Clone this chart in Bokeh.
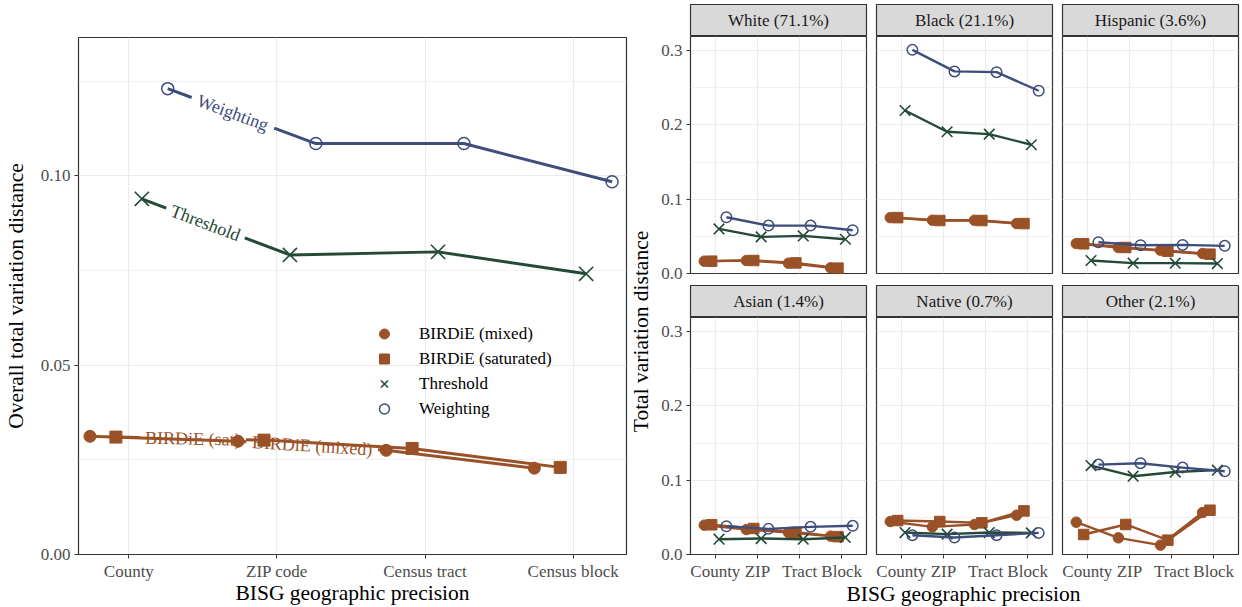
import math
from bokeh.plotting import figure
from bokeh.models import Range1d, FixedTicker, Legend, LegendItem, NumeralTickFormatter
from bokeh.layouts import row, column
from bokeh.embed import file_html
from bokeh.resources import INLINE
from bokeh.core.properties import value

# ---------------- data ----------------
categories = ["County", "ZIP code", "Census tract", "Census block"]
short_categories = ["County", "ZIP", "Tract", "Block"]
series_names = ["BIRDiE (mixed)", "BIRDiE (saturated)", "Threshold", "Weighting"]

overall_mixed = [0.0312, 0.0299, 0.0275, 0.0228]
overall_saturated = [0.0310, 0.0302, 0.0280, 0.0230]
overall_threshold = [0.0939, 0.0791, 0.0799, 0.0741]
overall_weighting = [0.1230, 0.1085, 0.1085, 0.0984]

facet_titles = ["White (71.1%)", "Black (21.1%)", "Hispanic (3.6%)",
                "Asian (1.4%)", "Native (0.7%)", "Other (2.1%)"]

facet_mixed = [
    [0.0166, 0.0175, 0.0139, 0.0076],
    [0.0752, 0.0717, 0.0717, 0.0672],
    [0.0403, 0.0349, 0.0313, 0.0269],
    [0.0395, 0.0336, 0.0296, 0.0247],
    [0.0444, 0.0372, 0.0404, 0.0529],
    [0.0435, 0.0224, 0.0126, 0.0565],
]
facet_saturated = [
    [0.0166, 0.0175, 0.0143, 0.0072],
    [0.0752, 0.0713, 0.0713, 0.0672],
    [0.0400, 0.0350, 0.0300, 0.0260],
    [0.0400, 0.0350, 0.0300, 0.0240],
    [0.0457, 0.0444, 0.0426, 0.0587],
    [0.0269, 0.0404, 0.0193, 0.0596],
]
facet_threshold = [
    [0.0600, 0.0493, 0.0506, 0.0461],
    [0.2194, 0.1908, 0.1876, 0.1733],
    [0.0175, 0.0139, 0.0139, 0.0134],
    [0.0206, 0.0215, 0.0206, 0.0229],
    [0.0296, 0.0274, 0.0296, 0.0291],
    [0.1197, 0.1054, 0.1110, 0.1135],
]
facet_weighting = [
    [0.0757, 0.0645, 0.0645, 0.0582],
    [0.3010, 0.2720, 0.2710, 0.2460],
    [0.0421, 0.0381, 0.0385, 0.0372],
    [0.0381, 0.0345, 0.0372, 0.0386],
    [0.0260, 0.0229, 0.0260, 0.0291],
    [0.1210, 0.1229, 0.1170, 0.1121],
]

x_title = "BISG geographic precision"
left_y_title = "Overall total variation distance"
facet_y_title = "Total variation distance"

# ---------------- styling ----------------
FONT = "Liberation Serif"
BROWN = "#9A5127"
GREEN = "#244A37"
BLUE = "#3E4D7C"
COLORS = [BROWN, BROWN, GREEN, BLUE]
MARKERS = ["circle", "square", "x", "circle"]
FILLS = [BROWN, BROWN, None, None]
DODGE = [-0.2625, -0.0875, 0.0875, 0.2625]


def style(p, yticks, yminor, yfmt, x_on, y_on):
    p.outline_line_color = "#333333"
    p.outline_line_width = 1.2
    p.background_fill_color = "white"
    p.border_fill_color = "white"
    p.xaxis.ticker = FixedTicker(ticks=[1, 2, 3, 4])
    p.yaxis.ticker = FixedTicker(ticks=yticks, minor_ticks=yminor)
    p.yaxis.formatter = NumeralTickFormatter(format=yfmt)
    p.xaxis.major_label_overrides = {i + 1: c for i, c in enumerate(short_categories)}
    p.xgrid.grid_line_color = "#EBEBEB"
    p.xgrid.grid_line_width = 1.2
    p.ygrid.grid_line_color = "#EBEBEB"
    p.ygrid.grid_line_width = 1.2
    p.ygrid.minor_grid_line_color = "#EBEBEB"
    p.ygrid.minor_grid_line_width = 0.7
    for ax in p.axis:
        ax.axis_line_color = None
        ax.major_tick_line_color = "#333333"
        ax.major_tick_out = 4
        ax.major_tick_in = 0
        ax.minor_tick_line_color = None
        ax.major_label_text_font = FONT
        ax.major_label_text_font_size = "17px"
        ax.major_label_text_color = "#4D4D4D"
        ax.axis_label_text_font = FONT
        ax.axis_label_text_font_size = "21.5px"
        ax.axis_label_text_font_style = "normal"
        ax.axis_label_text_color = "black"
    p.xaxis.major_label_standoff = 3
    p.xaxis.axis_label_standoff = 0
    p.yaxis.major_label_standoff = 4
    p.xaxis.visible = x_on
    p.yaxis.visible = y_on


def draw_series(p, xs, ys, k, lw, msize, xsize, line_x=None, line_y=None):
    lx = xs if line_x is None else line_x
    ly = ys if line_y is None else line_y
    p.line(lx, ly, line_color=COLORS[k], line_width=lw, line_join="round")
    kw = dict(marker=MARKERS[k], size=msize, line_color=COLORS[k])
    if FILLS[k] is None:
        kw.update(fill_color=None, line_width=1.5)
    else:
        kw.update(fill_color=FILLS[k], line_width=1)
    if MARKERS[k] == "x":
        kw.update(line_width=1.6, size=xsize)
    return p.scatter(xs, ys, **kw)


def text_fig(width, height, x, y, txt, angle=0.0):
    f = figure(frame_width=width, frame_height=height, x_range=Range1d(0, width),
               y_range=Range1d(0, height), min_border=0,
               output_backend="svg", toolbar_location=None)
    f.axis.visible = False
    f.grid.visible = False
    f.outline_line_color = None
    f.border_fill_color = "white"
    f.background_fill_color = "white"
    f.text(x=[x], y=[y], text=[txt], angle=angle, text_align="center",
           text_baseline="middle", text_font=value(FONT),
           text_font_size="21.5px", text_color="black")
    return f


# ---------------- left panel ----------------
L_FW, L_FH = 548, 517
L_X0, L_X1 = 0.66, 4.36
L_Y1 = 0.1365
SX = L_FW / (L_X1 - L_X0)
SY = L_FH / L_Y1

left = figure(frame_width=L_FW, frame_height=L_FH,
              x_range=Range1d(L_X0, L_X1), y_range=Range1d(0, L_Y1),
              min_border_left=78, min_border_right=2, min_border_top=37,
              min_border_bottom=0, output_backend="svg", toolbar_location=None)
style(left, [0, 0.05, 0.10], [0.025, 0.075, 0.125], "0.00", True, True)
left.xaxis.major_label_overrides = {i + 1: c for i, c in enumerate(categories)}
left.xaxis.axis_label = x_title
left.xaxis.axis_label_standoff = -3
left.yaxis.axis_label = left_y_title
left.yaxis.axis_label_standoff = 10

overall = [overall_mixed, overall_saturated, overall_threshold, overall_weighting]
# (segment, fraction along segment, label text, half gap in px)
path_labels = {3: (0, 0.44, "Weighting", 44), 2: (0, 0.43, "Threshold", 42),
               1: (0, 0.52, "BIRDiE (sat)", 53), 0: (1, 0.50, "BIRDiE (mixed)", 66)}

scatter_r = []
for k, vals in enumerate(overall):
    xs = [i + 1 + DODGE[k] for i in range(len(categories))]
    ys = list(vals)
    seg, frac, txt, half = path_labels[k]
    x0, y0, x1, y1 = xs[seg], ys[seg], xs[seg + 1], ys[seg + 1]
    dxp, dyp = (x1 - x0) * SX, (y1 - y0) * SY
    lp = math.hypot(dxp, dyp)
    h = half / lp
    fa, fb = frac - h, frac + h
    line_x = xs[:seg + 1] + [x0 + (x1 - x0) * fa, float("nan"), x0 + (x1 - x0) * fb] + xs[seg + 1:]
    line_y = ys[:seg + 1] + [y0 + (y1 - y0) * fa, float("nan"), y0 + (y1 - y0) * fb] + ys[seg + 1:]
    r = draw_series(left, xs, ys, k, 3, 12, 20, line_x, line_y)
    scatter_r.append(r)
    ang = math.atan2(dyp, dxp)
    left.text(x=[x0 + (x1 - x0) * frac], y=[y0 + (y1 - y0) * frac], text=[txt],
              angle=ang, text_align="center", text_baseline="middle",
              text_font=value(FONT), text_font_size="18px", text_color=COLORS[k])

legend = Legend(items=[LegendItem(label=n, renderers=[r]) for n, r in zip(series_names, scatter_r)],
                location=(292, 133), orientation="vertical",
                background_fill_alpha=0, border_line_color=None,
                padding=0, margin=0, spacing=0,
                glyph_width=28, glyph_height=25, label_height=25,
                label_standoff=21, label_text_font=FONT,
                label_text_font_size="17px", label_text_color="black")
left.add_layout(legend)

# ---------------- y title for facets ----------------
ylab = text_fig(30, 607, 12, 313, facet_y_title, math.pi / 2)

# ---------------- facets ----------------
F_FW, F_FH = 176, 237
F_X0, F_X1 = 0.41, 4.59
F_Y1 = 0.319
col_borders = [(31, 5), (5, 5), (5, 5)]


def make_strip(title, c, top):
    bl, br = col_borders[c]
    s = figure(frame_width=F_FW, frame_height=32, x_range=Range1d(0, 1), y_range=Range1d(0, 1),
               min_border_left=bl, min_border_right=br, min_border_top=top, min_border_bottom=0,
               output_backend="svg", toolbar_location=None)
    s.axis.visible = False
    s.grid.visible = False
    s.background_fill_color = "#D9D9D9"
    s.border_fill_color = "white"
    s.outline_line_color = "#333333"
    s.outline_line_width = 1.2
    s.text(x=[0.5], y=[0.5], text=[title], text_align="center", text_baseline="middle",
           text_font=value(FONT), text_font_size="17px", text_color="#1A1A1A")
    return s


def make_facet(idx, c, r):
    bl, br = col_borders[c]
    p = figure(frame_width=F_FW, frame_height=F_FH,
               x_range=Range1d(F_X0, F_X1), y_range=Range1d(0, F_Y1),
               min_border_left=bl, min_border_right=br, min_border_top=0,
               min_border_bottom=12 if r == 0 else 28,
               output_backend="svg", toolbar_location=None)
    style(p, [0, 0.1, 0.2, 0.3], [0.05, 0.15, 0.25], "0.0", r == 1, c == 0)
    series = [facet_mixed[idx], facet_saturated[idx], facet_threshold[idx], facet_weighting[idx]]
    for k, vals in enumerate(series):
        xs = [i + 1 + DODGE[k] for i in range(len(short_categories))]
        draw_series(p, xs, list(vals), k, 2.4, 10.5, 15)
    return p


cols = []
for c in range(3):
    cols.append(column(
        make_strip(facet_titles[c], c, 4),
        make_facet(c, c, 0),
        make_strip(facet_titles[3 + c], c, 0),
        make_facet(3 + c, c, 1),
    ))

facets_w = sum(bl + F_FW + br for bl, br in col_borders)
xlab = text_fig(facets_w, 25, 305, 15, x_title)

right = column(row(*cols), xlab)
layout = row(left, ylab, right)

open("out.html", "w").write(file_html(layout, INLINE))
